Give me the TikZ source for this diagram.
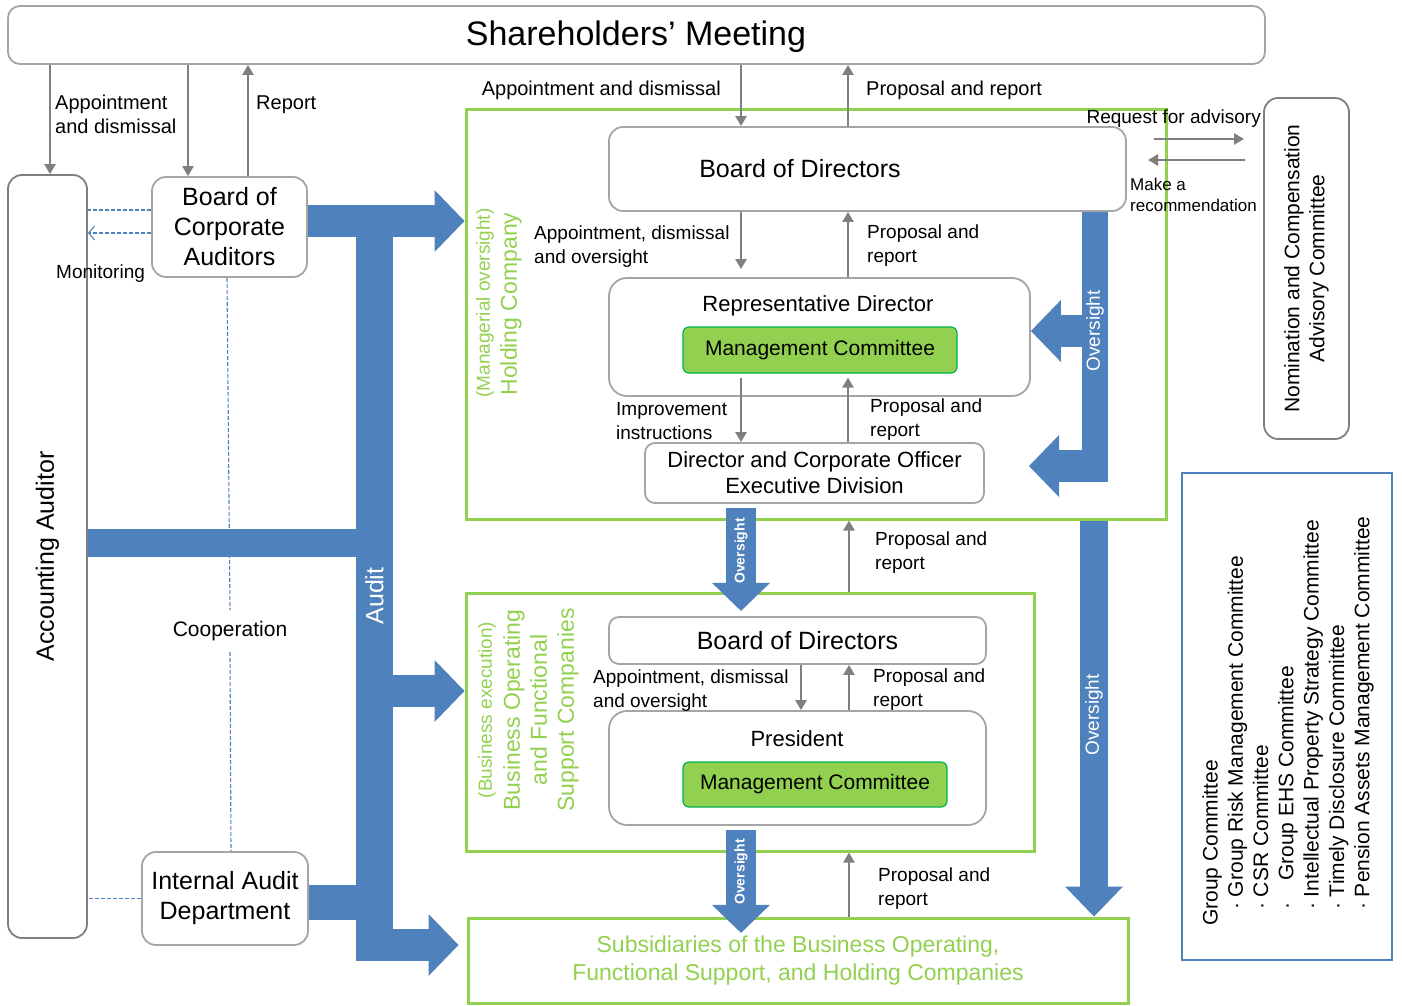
\documentclass[tikz,border=0pt]{standalone}
\usepackage{fontspec}
\setmainfont{Liberation Sans}
\usetikzlibrary{arrows.meta}
\definecolor{boxgray}{HTML}{A5A5A5}
\definecolor{linegray}{HTML}{7F7F7F}
\definecolor{audblue}{HTML}{4F81BD}
\definecolor{hdgreen}{HTML}{92D050}
\definecolor{mcgreen}{HTML}{00B050}
\begin{document}
\begin{tikzpicture}[x=1pt, y=-1pt,
    graybox/.style={draw=boxgray, line width=1.8pt, rounded corners=14pt, inner sep=0pt, align=center},
    greenbox/.style={draw=hdgreen, line width=3pt, inner sep=0pt},
    mcbox/.style={draw=mcgreen, fill=hdgreen, line width=1.2pt, rounded corners=6pt, inner sep=0pt, font=\fontsize{21}{25}\selectfont},
    arr/.style={draw=linegray, line width=2.4pt, -{Triangle[length=10pt,width=11pt]}},
    dashline/.style={draw=audblue, line width=1.1pt, dash pattern=on 4pt off 2pt},
    band/.style={draw=audblue, line width=#1},
    bandarrow/.style={draw=audblue, line width=#1, -{Triangle[length=30pt,width=62pt,line width=0pt]}},
    thinarrow/.style={draw=audblue, line width=30pt, -{Triangle[length=28pt,width=58pt,line width=0pt]}},
    lbl/.style={font=\fontsize{19}{24}\selectfont, align=left, anchor=west, inner sep=0pt, yshift=-2pt},
    bandtext/.style={text=white, rotate=90, inner sep=0pt},
    grntext/.style={text=hdgreen, rotate=90, inner sep=0pt, align=center}]
  \useasboundingbox (0,0) rectangle (1402,1006);

  % boxes
  \node[graybox, rounded corners=12pt, minimum width=1257pt, minimum height=58pt] (sm) at (636.5,35) {};
  \node[font=\fontsize{34}{38}\selectfont] at (636,37) {Shareholders’ Meeting};
  \node[graybox, draw=linegray, minimum width=79pt, minimum height=763pt] (acc) at (47.5,556.5) {};
  \node[rotate=90, font=\fontsize{25}{30}\selectfont] at (acc) {Accounting Auditor};
  \node[graybox, minimum width=155pt, minimum height=100pt, font=\fontsize{25}{30}\selectfont] (bca) at (229.5,227) {Board of\\Corporate\\Auditors};
  \node[graybox, minimum width=166pt, minimum height=93pt, font=\fontsize{25}{30}\selectfont] (iad) at (225,898.5) {Internal Audit\\Department};

  \node[greenbox, minimum width=700pt, minimum height=409pt] (hold) at (816,314.5) {};
  \node[grntext, font=\fontsize{19}{23}\selectfont] at (485,303) {(Managerial oversight)};
  \node[grntext, font=\fontsize{23}{27}\selectfont] at (511,304) {Holding Company};
  \node[graybox, minimum width=517pt, minimum height=84pt] (bod1) at (867.5,169) {};
  \node[font=\fontsize{25}{30}\selectfont] at (800,169) {Board of Directors};
  \node[graybox, rounded corners=18pt, minimum width=421pt, minimum height=118pt] (rep) at (819.5,337) {};
  \node[font=\fontsize{22}{26}\selectfont] at (818,306) {Representative Director};
  \node[mcbox, minimum width=274pt, minimum height=46pt] (mc1) at (820,350) {Management Committee};
  \node[graybox, rounded corners=10pt, minimum width=339pt, minimum height=60pt, font=\fontsize{22}{26}\selectfont] (dco) at (814.5,473) {Director and Corporate Officer\\Executive Division};

  \node[graybox, draw=linegray, minimum width=85pt, minimum height=341pt] (ncac) at (1306.5,268.5) {};
  \node[rotate=90, align=center, font=\fontsize{21}{25}\selectfont] at (ncac) {Nomination and Compensation\\Advisory Committee};

  \node[greenbox, minimum width=568pt, minimum height=258pt] (bus) at (750,722) {};
  \node[grntext, font=\fontsize{19}{23}\selectfont] at (487,710) {(Business execution)};
  \node[grntext, font=\fontsize{23}{27}\selectfont] at (541,710) {Business Operating\\and Functional\\Support Companies};
  \node[graybox, rounded corners=10pt, minimum width=377pt, minimum height=47pt, font=\fontsize{25}{30}\selectfont] (bod2) at (797.5,640.5) {Board of Directors};
  \node[graybox, rounded corners=18pt, minimum width=377pt, minimum height=114pt] (pres) at (797.5,768) {};
  \node[font=\fontsize{22}{26}\selectfont] at (797,739) {President};
  \node[mcbox, minimum width=264pt, minimum height=45pt] (mc2) at (815,784.5) {Management Committee};

  \node[greenbox, minimum width=660pt, minimum height=85pt, text=hdgreen, align=center, font=\fontsize{23}{28}\selectfont] (sub) at (798,960.5) {Subsidiaries of the Business Operating,\\Functional Support, and Holding Companies};

  \node[draw=audblue, line width=1.2pt, minimum width=210pt, minimum height=487pt, inner sep=0pt] (grp) at (1287,716.5) {};
  \node[rotate=90, anchor=west, align=left, inner sep=0pt, font=\fontsize{21}{25.3}\selectfont] at (1288,926) {Group Committee\\
    \hspace*{16pt}·\ Group Risk Management Committee\\
    \hspace*{16pt}·\ CSR Committee\\
    \hspace*{16pt}·\hspace*{22pt}Group EHS Committee\\
    \hspace*{16pt}·\ Intellectual Property Strategy Committee\\
    \hspace*{16pt}·\ Timely Disclosure Committee\\
    \hspace*{16pt}·\ Pension Assets Management Committee};

  % gray arrows
  \draw[arr] ([xshift=2.5pt]acc.north |- sm.south) -- ([xshift=2.5pt]acc.north);
  \draw[arr] ([xshift=-41.5pt]bca.north |- sm.south) -- ([xshift=-41.5pt]bca.north);
  \draw[arr] ([xshift=18.5pt]bca.north) -- ([xshift=18.5pt]bca.north |- sm.south);
  \draw[arr] ([xshift=-126.5pt]bod1.north |- sm.south) -- ([xshift=-126.5pt]bod1.north);
  \draw[arr] ([xshift=-19.5pt]bod1.north) -- ([xshift=-19.5pt]bod1.north |- sm.south);
  \draw[arr, shorten >=8pt] ([xshift=-78.5pt]rep.north |- bod1.south) -- ([xshift=-78.5pt]rep.north);
  \draw[arr] ([xshift=28.5pt]rep.north) -- ([xshift=28.5pt]rep.north |- bod1.south);
  \draw[arr, shorten <=4pt] ([xshift=-79pt]mc1.south) -- ([xshift=-79pt]mc1.south |- dco.north);
  \draw[arr, shorten >=4pt] ([xshift=28pt]mc1.south |- dco.north) -- ([xshift=28pt]mc1.south);
  \draw[arr] ([xshift=99pt]bus.north) -- ([xshift=99pt]bus.north |- hold.south);
  \draw[arr] ([xshift=3.5pt]bod2.south) -- ([xshift=3.5pt]bod2.south |- pres.north);
  \draw[arr] ([xshift=51.5pt]pres.north) -- ([xshift=51.5pt]pres.north |- bod2.south);
  \draw[arr] ([xshift=51pt]sub.north) -- ([xshift=51pt]sub.north |- bus.south);
  \coordinate (reqa) at (1154,139);
  \coordinate (reqb) at (1244,139);
  \coordinate (reca) at (1245,160);
  \coordinate (recb) at (1148,160);
  \draw[arr] (reqa) -- (reqb);
  \draw[arr] (reca) -- (recb);

  % labels
  \node[lbl, font=\fontsize{20}{24}\selectfont] at (55,112) {Appointment\\and dismissal};
  \node[lbl, font=\fontsize{20}{24}\selectfont] at (256,103) {Report};
  \node[lbl, font=\fontsize{20}{24}\selectfont, anchor=east] at (721,88) {Appointment and dismissal};
  \node[lbl, font=\fontsize{20}{24}\selectfont] at (866,88) {Proposal and report};
  \node[lbl] at (534,245) {Appointment, dismissal\\and oversight};
  \node[lbl] at (867,244) {Proposal and\\report};
  \node[lbl, anchor=east] at (1261,117) {Request for advisory};
  \node[lbl, font=\fontsize{17}{21}\selectfont] at (1130,193) {Make a\\recommendation};
  \node[lbl] at (616,419) {Improvement\\instructions};
  \node[lbl] at (870,418) {Proposal and\\report};
  \node[lbl] at (875,551) {Proposal and\\report};
  \node[lbl] at (593,689) {Appointment, dismissal\\and oversight};
  \node[lbl] at (873,688) {Proposal and\\report};
  \node[lbl] at (878,887) {Proposal and\\report};
  \node[lbl] at (56,272) {Monitoring};
  \node[font=\fontsize{21}{25}\selectfont, inner sep=11pt] (coop) at (230,631) {Cooperation};

  % dashed links
  \draw[dashline] ([yshift=17pt]bca.west) -- ([yshift=17pt]bca.west -| acc.east);
  \draw[dashline, -{Straight Barb[length=6pt,width=14pt]}] ([yshift=-6pt]bca.west) -- ([yshift=-6pt]bca.west -| acc.east);
  \draw[dashline] ([xshift=-2.5pt]bca.south) -- (coop.north);
  \draw[dashline] (coop.south) -- ([xshift=6pt]iad.north);
  \draw[dashline] (iad.west) -- (iad.west -| acc.east);

  % audit bands
  \coordinate (spine) at (374.5,961);
  \draw[band=37pt] (spine |- bca.east) -- (spine);
  \draw[bandarrow=32pt] ([yshift=6pt]bca.east) -- ([yshift=6pt]bca.east -| hold.west);
  \draw[band=28pt] ([yshift=13.5pt]acc.east) -- ([yshift=13.5pt]acc.east -| spine);
  \draw[bandarrow=32pt] ([yshift=31pt]bus.west -| spine) -- ([yshift=31pt]bus.west);
  \draw[band=35pt] ([yshift=-3.5pt]iad.east) -- ([yshift=-3.5pt]iad.east -| spine);
  \draw[bandarrow=32pt, shorten >=8pt] ([yshift=15.5pt]sub.west -| spine) -- ([yshift=15.5pt]sub.west);
  \node[bandtext, font=\fontsize{25}{30}\selectfont] at (374.5,596) {Audit};

  % oversight bands
  \coordinate (ovbot) at (1095,482);
  \draw[band=26pt] (bod1.south -| ovbot) -- (ovbot);
  \draw[bandarrow=32pt] ([yshift=6pt]rep.east -| ovbot) -- ([yshift=6pt]rep.east);
  \draw[bandarrow=32pt] ([xshift=13pt,yshift=16pt]ovbot) -- ([xshift=-66pt,yshift=16pt]ovbot);
  \draw[bandarrow=28pt, -{Triangle[length=30pt,width=58pt,line width=0pt]}] ([xshift=-1pt]hold.south -| ovbot) -- ([xshift=-1pt]sub.north -| ovbot);
  \draw[thinarrow] ([xshift=-73.5pt,yshift=-4pt]dco.south) -- ++(0,103);
  \draw[thinarrow] ([xshift=-56.5pt,yshift=-4pt]pres.south) -- ++(0,103);
  \node[bandtext, font=\fontsize{19}{23}\selectfont] at (1095,331) {Oversight};
  \node[bandtext, font=\fontsize{19}{23}\selectfont] at (1094,715) {Oversight};
  \node[bandtext, font=\bfseries\fontsize{14}{17}\selectfont] at (741,551) {Oversight};
  \node[bandtext, font=\bfseries\fontsize{14}{17}\selectfont] at (741,872) {Oversight};
\end{tikzpicture}
\end{document}
